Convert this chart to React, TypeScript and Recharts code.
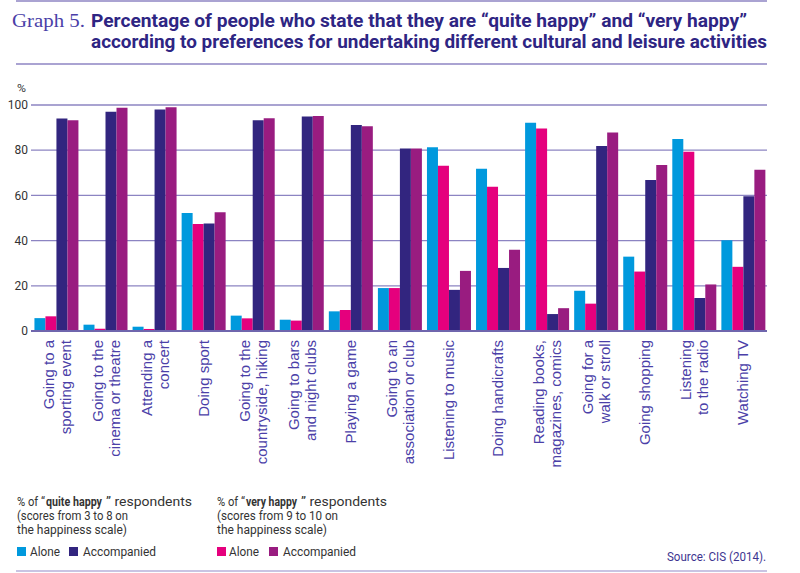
import React from "react";
import { Bar, BarChart, CartesianGrid, XAxis, YAxis } from "recharts";

const activities = [
  ["Going to a", "sporting event"],
  ["Going to the", "cinema or theatre"],
  ["Attending a", "concert"],
  ["Doing sport"],
  ["Going to the", "countryside, hiking"],
  ["Going to bars", "and night clubs"],
  ["Playing a game"],
  ["Going to an", "association or club"],
  ["Listening to music"],
  ["Doing handicrafts"],
  ["Reading books,", "magazines, comics"],
  ["Going for a", "walk or stroll"],
  ["Going shopping"],
  ["Listening", "to the radio"],
  ["Watching TV"],
];

const quiteAlone = [5.7, 2.8, 1.9, 52.2, 6.8, 5.0, 8.7, 19, 81.3, 71.8, 92.1, 17.8, 32.9, 85, 40.1];
const quiteAccompanied = [94, 97, 98, 47.6, 93.2, 94.9, 91.2, 80.7, 18.2, 27.9, 7.5, 81.9, 66.8, 14.6, 59.6];
const veryAlone = [6.5, 1.0, 0.9, 47.4, 5.6, 4.6, 9.3, 19, 73.1, 63.8, 89.6, 12.1, 26.3, 79.3, 28.4];
const veryAccompanied = [93.2, 98.8, 99, 52.5, 94.1, 95.1, 90.6, 80.7, 26.6, 35.9, 10.1, 87.8, 73.4, 20.6, 71.3];

const yTicks = [0, 20, 40, 60, 80, 100];

const data = activities.map((label, i) => ({
  name: label.join(" "),
  quiteAlone: quiteAlone[i],
  veryAlone: veryAlone[i],
  quiteAccompanied: quiteAccompanied[i],
  veryAccompanied: veryAccompanied[i],
}));

const BLUE = "#0099dd";
const PINK = "#e5007d";
const DARK = "#32257f";
const PURPLE = "#991c80";
const narrow = "Roboto, 'Liberation Sans', sans-serif";

function ActivityTick(props: any) {
  const { x, y, index } = props;
  const lines: string[] = activities[index] || [];
  const offsets = lines.length === 1 ? [6] : [-2, 15];
  return (
    <g transform={`translate(${x},${y + 1})`}>
      <text
        transform="rotate(-90)"
        textAnchor="end"
        fill="#4b3fa8"
        fontSize={15}
        fontFamily="'Liberation Sans', Arial, sans-serif"
      >
        {lines.map((l, i) => (
          <tspan key={i} x={0} y={offsets[i]}>
            {l}
          </tspan>
        ))}
      </text>
    </g>
  );
}

// squeezed text, so the narrow typeface of the original is approximated
function Fit(props: { x: number; y: number; w: number; size?: number; fill?: string; bold?: boolean; children: any }) {
  const { x, y, w, size = 12.5, fill = "#333", bold, children } = props;
  return (
    <text
      x={x}
      y={y}
      textLength={w}
      lengthAdjust="spacingAndGlyphs"
      fontSize={size}
      fontFamily={narrow}
      fontWeight={bold ? "bold" : "normal"}
      fill={fill}
      style={{ whiteSpace: "pre" }}
    >
      {children}
    </text>
  );
}

export default function App() {
  return (
    <div style={{ position: "absolute", left: 0, top: 0, width: 800, height: 573, background: "#fff" }}>
      <div style={{ position: "absolute", top: 0, left: 0 }}>
        <BarChart
          width={800}
          height={573}
          data={data}
          margin={{ top: 105, right: 33, left: 0, bottom: 102 }}
          barCategoryGap="7%"
          barGap={0}
        >
          <CartesianGrid vertical={false} stroke="#8c84c2" strokeWidth={1.3} />
          <YAxis
            domain={[0, 100]}
            ticks={yTicks}
            width={31}
            axisLine={false}
            tickLine={false}
            tickSize={3}
            tickMargin={0}
            tick={{ fill: "#333", fontSize: 12, fontFamily: narrow }}
          />
          <XAxis
            dataKey="name"
            height={140}
            interval={0}
            tickLine={false}
            axisLine={{ stroke: "#6f66ad", strokeWidth: 2 }}
            tick={<ActivityTick />}
          />
          <Bar dataKey="quiteAlone" fill={BLUE} isAnimationActive={false} />
          <Bar dataKey="veryAlone" fill={PINK} isAnimationActive={false} />
          <Bar dataKey="quiteAccompanied" fill={DARK} isAnimationActive={false} />
          <Bar dataKey="veryAccompanied" fill={PURPLE} isAnimationActive={false} />
        </BarChart>
      </div>

      <svg width={800} height={573} style={{ position: "absolute", left: 0, top: 0, pointerEvents: "none" }}>
        <rect x={16} y={0} width={751} height={2} fill="#aaa3d2" />
        <rect x={16} y={63} width={751} height={2} fill="#aaa3d2" />
        <rect x={16} y={570} width={751} height={2} fill="#c9c4e3" />

        <text x={12} y={27} textLength={73} lengthAdjust="spacingAndGlyphs" fontSize={19} fontFamily="'Liberation Serif', serif" fill="#4b3fa8">
          Graph 5.
        </text>
        <Fit x={91} y={27} w={656} size={19} bold fill="#2e2583">
          Percentage of people who state that they are “quite happy” and “very happy”
        </Fit>
        <Fit x={91} y={48} w={676} size={19} bold fill="#2e2583">
          according to preferences for undertaking different cultural and leisure activities
        </Fit>

        <Fit x={17} y={92} w={9} size={11}>%</Fit>

        <Fit x={17} y={506} w={28}>% of “</Fit>
        <Fit x={46} y={506} w={56} bold>quite happy</Fit>
        <Fit x={106} y={506} w={86}>” respondents</Fit>
        <Fit x={17} y={520} w={111}>(scores from 3 to 8 on</Fit>
        <Fit x={17} y={534} w={110}>the happiness scale)</Fit>

        <Fit x={217} y={506} w={28}>% of “</Fit>
        <Fit x={246} y={506} w={51} bold>very happy</Fit>
        <Fit x={301} y={506} w={86}>” respondents</Fit>
        <Fit x={217} y={520} w={121}>(scores from 9 to 10 on</Fit>
        <Fit x={217} y={534} w={110}>the happiness scale)</Fit>

        <rect x={17} y={547} width={9} height={9} fill={BLUE} />
        <Fit x={30} y={556} w={30}>Alone</Fit>
        <rect x={69} y={547} width={9} height={9} fill={DARK} />
        <Fit x={83} y={556} w={73}>Accompanied</Fit>
        <rect x={217} y={547} width={9} height={9} fill={PINK} />
        <Fit x={229} y={556} w={30}>Alone</Fit>
        <rect x={269} y={547} width={9} height={9} fill={PURPLE} />
        <Fit x={283} y={556} w={73}>Accompanied</Fit>

        <Fit x={667} y={561} w={99} size={12} fill="#3d3490">Source: CIS (2014).</Fit>
      </svg>
    </div>
  );
}
